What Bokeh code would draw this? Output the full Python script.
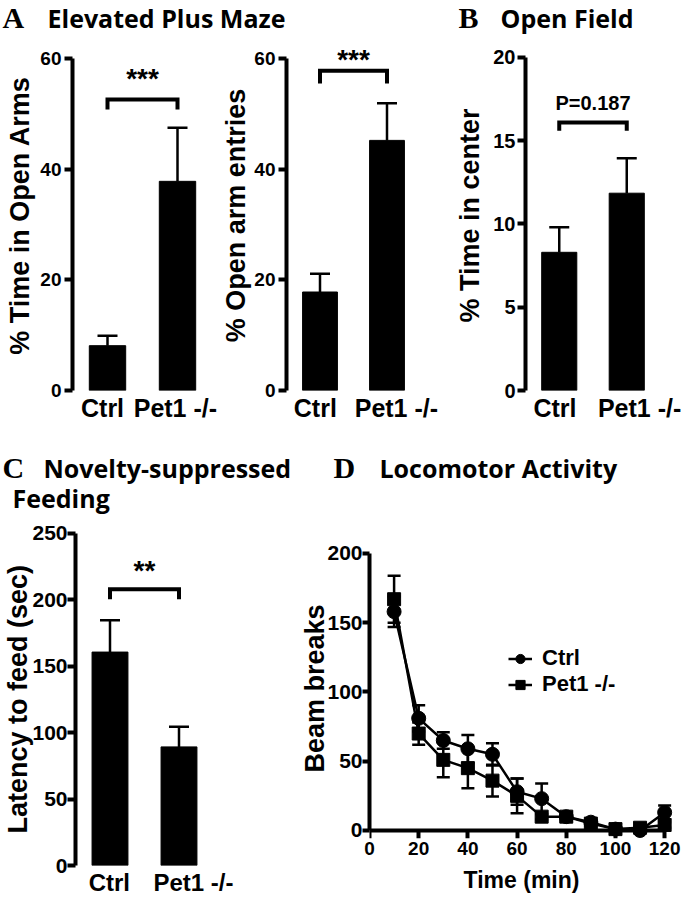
from bokeh.plotting import figure
from bokeh.layouts import row, column
from bokeh.models import (Range1d, FixedTicker, Label, Whisker, TeeHead,
                          ColumnDataSource, Legend, LegendItem, LinearAxis, Plot)
from bokeh.core.properties import value
from bokeh.embed import file_html
from bokeh.resources import INLINE

# ---------------- data ----------------
groups = ["Ctrl", "Pet1 -/-"]

epm_time_mean = [8.1, 37.8]
epm_time_sem = [1.8, 9.7]
epm_entries_mean = [17.8, 45.2]
epm_entries_sem = [3.3, 6.7]
of_center_mean = [8.3, 11.85]
of_center_sem = [1.5, 2.1]
nsf_latency_mean = [160.7, 89.3]
nsf_latency_sem = [24.0, 15.1]

sig_text = ["***", "***", "P=0.187", "**"]
sig_bracket = [52.6, 57.8, 16.1, 208.0]
sig_drop = [1.8, 2.3, 0.5, 7.5]
sig_text_y = [56.4, 59.8, 17.24, 222.0]

time_min = [10, 20, 30, 40, 50, 60, 70, 80, 90, 100, 110, 120]
ctrl_breaks = [158, 81, 65, 59, 55, 28, 23, 10, 6, 1, 0, 13]
ctrl_sem = [11, 9.5, 6, 10, 8, 9.5, 11, 2, 1.5, 0.5, 1, 5]
pet1_breaks = [167, 70, 51, 45, 36, 25, 10, 10, 5, 1, 2, 4]
pet1_sem = [17, 8, 12.5, 14.5, 11.5, 12.5, 2, 3, 1.5, 1, 1, 2]

SANS = "Liberation Sans"
SERIF = "Liberation Serif"
HEAD = "Open Sans"

FA = {"frame_align": False} if "frame_align" in Plot.properties() else {}


def style_y(p, bounds, ticks, label, tick_font="19px", label_font="27px",
            label_standoff=0, tick_standoff=3, tick_out=8):
    ax = p.yaxis[0]
    ax.bounds = bounds
    ax.ticker = FixedTicker(ticks=ticks)
    ax.axis_label = label
    ax.axis_line_width = 4
    ax.major_tick_line_width = 4
    ax.major_tick_out = tick_out
    ax.major_tick_in = 0
    ax.minor_tick_out = 0
    ax.minor_tick_in = 0
    ax.major_label_standoff = tick_standoff
    ax.major_label_text_font = SANS
    ax.major_label_text_font_style = "bold"
    ax.major_label_text_font_size = tick_font
    ax.major_label_text_color = "black"
    ax.axis_label_text_font = SANS
    ax.axis_label_text_font_style = "bold"
    ax.axis_label_text_font_size = label_font
    ax.axis_label_text_color = "black"
    ax.axis_label_standoff = label_standoff


def bar_panel(width, height, mb_left, mb_right, mb_top, mb_bottom, y_end,
              bounds, ticks, ylabel, means, sems, label_pos, k,
              label_standoff=0, tick_font="19px", cat_font="25px",
              tick_standoff=3, star_font="28px", tick_out=8):
    p = figure(width=width, height=height, x_range=Range1d(0.5, 2.5),
               y_range=Range1d(0, y_end), output_backend="svg",
               toolbar_location=None, min_border_left=mb_left,
               min_border_right=mb_right, min_border_top=mb_top,
               min_border_bottom=mb_bottom, outline_line_color=None, **FA)
    p.grid.visible = False
    xs = [i + 1 for i in range(len(groups))]
    p.vbar(x=xs, top=means, width=0.52, color="black")
    src = ColumnDataSource(dict(x=xs, lo=means,
                                hi=[m + s for m, s in zip(means, sems)]))
    p.add_layout(Whisker(source=src, base="x", lower="lo", upper="hi",
                         lower_head=None,
                         upper_head=TeeHead(size=20, line_width=2.5),
                         line_width=2.5, level="glyph"))
    top = sig_bracket[k]
    low = top - sig_drop[k]
    p.line(x=[xs[0], xs[0], xs[1], xs[1]], y=[low, top, top, low],
           line_width=4, color="black", line_join="miter")
    p.text(x=[(xs[0] + xs[1]) / 2], y=[sig_text_y[k]], text=[sig_text[k]],
           text_align="center", text_baseline="middle",
           text_font=value(SANS), text_font_style="bold",
           text_font_size=star_font if "*" in sig_text[k] else "20px")
    style_y(p, bounds, ticks, ylabel, tick_font=tick_font,
            label_standoff=label_standoff, tick_standoff=tick_standoff,
            tick_out=tick_out)
    xa = p.xaxis[0]
    xa.ticker = FixedTicker(ticks=label_pos)
    xa.major_label_overrides = {pos: g for pos, g in zip(label_pos, groups)}
    xa.axis_line_color = None
    xa.major_tick_line_color = None
    xa.minor_tick_line_color = None
    xa.major_tick_out = 0
    xa.major_tick_in = 0
    xa.major_label_standoff = 3
    xa.major_label_text_font = SANS
    xa.major_label_text_font_style = "bold"
    xa.major_label_text_font_size = cat_font
    xa.major_label_text_color = "black"
    return p


def strip(width, height, items):
    p = figure(width=width, height=height, x_range=Range1d(0, 1),
               y_range=Range1d(0, 1), x_axis_location=None,
               y_axis_location=None, output_backend="svg",
               toolbar_location=None, min_border=0, outline_line_color=None,
               **FA)
    p.grid.visible = False
    for txt, x, y, font, size in items:
        p.add_layout(Label(x=x, y=y, x_units="screen", y_units="screen",
                           text=txt, text_font=font, text_font_size=size,
                           text_font_style="bold", text_color="black",
                           text_baseline="middle"))
    return p


# ---------------- row 1 ----------------
title1 = strip(683, 40, [
    ("A", 2, 23, SERIF, "30px"),
    ("Elevated Plus Maze", 47, 22.7, HEAD, "25px"),
    ("B", 458, 23, SERIF, "30px"),
    ("Open Field", 500, 22.7, HEAD, "25px"),
])

a1 = bar_panel(218, 388, 72, 6, 0, 38, 63.25, (0, 60), [0, 20, 40, 60],
               "% Time in Open Arms", epm_time_mean, epm_time_sem,
               [0.929, 1.97], 0, label_standoff=2)
a2 = bar_panel(234, 388, 62, 32, 0, 38, 63.25, (0, 60), [0, 20, 40, 60],
               "% Open arm entries", epm_entries_mean, epm_entries_sem,
               [0.93, 2.14], 1, label_standoff=0)
b = bar_panel(231, 388, 68, 23, 0, 38, 21.02, (0, 20), [0, 5, 10, 15, 20],
              "% Time in center", of_center_mean, of_center_sem,
              [0.936, 2.19], 2, label_standoff=5, tick_font="20px",
              tick_standoff=2)

# ---------------- row 2 ----------------
title2 = strip(683, 87, [
    ("C", 2, 48, SERIF, "30px"),
    ("Novelty-suppressed", 43, 47.7, HEAD, "25px"),
    ("Feeding", 12, 17.7, HEAD, "25px"),
    ("D", 333, 48, SERIF, "30px"),
    ("Locomotor Activity", 379, 47.7, HEAD, "25px"),
])

c = bar_panel(297, 383, 73, 84, 10, 32, 256.0, (0, 250),
              [0, 50, 100, 150, 200, 250], "Latency to feed  (sec)",
              nsf_latency_mean, nsf_latency_sem, [0.99, 2.21], 3,
              label_standoff=-4, tick_font="21px", cat_font="24px",
              tick_standoff=0)

d = figure(width=386, height=383, x_range=Range1d(0, 123.6),
           y_range=Range1d(-5.78, 210.83), output_backend="svg",
           toolbar_location=None, min_border_left=67, min_border_right=10,
           min_border_top=23, min_border_bottom=60, outline_line_color=None,
           **FA)
d.grid.visible = False

ctrl_src = ColumnDataSource(dict(
    x=time_min, y=ctrl_breaks,
    lo=[v - e for v, e in zip(ctrl_breaks, ctrl_sem)],
    hi=[v + e for v, e in zip(ctrl_breaks, ctrl_sem)]))
pet_src = ColumnDataSource(dict(
    x=time_min, y=pet1_breaks,
    lo=[v - e for v, e in zip(pet1_breaks, pet1_sem)],
    hi=[v + e for v, e in zip(pet1_breaks, pet1_sem)]))

for src in (ctrl_src, pet_src):
    d.add_layout(Whisker(source=src, base="x", lower="lo", upper="hi",
                         upper_head=TeeHead(size=13, line_width=2.5),
                         lower_head=TeeHead(size=13, line_width=2.5),
                         line_width=2.5))

ctrl_line = d.line("x", "y", source=ctrl_src, line_width=2.5, color="black")
pet_line = d.line("x", "y", source=pet_src, line_width=2.5, color="black")
ctrl_pts = d.scatter("x", "y", source=ctrl_src, marker="circle", size=14,
                     color="black")
pet_pts = d.scatter("x", "y", source=pet_src, marker="square", size=13,
                    color="black")

style_y(d, (0, 200), [0, 50, 100, 150, 200], "Beam breaks",
        tick_font="21px", label_standoff=-6, tick_standoff=0, tick_out=7)

time_ticks = [0, 20, 40, 60, 80, 100, 120]
# labels of the time axis (at frame bottom)
xa = d.xaxis[0]
xa.ticker = FixedTicker(ticks=time_ticks)
xa.axis_line_color = None
xa.major_tick_line_color = None
xa.minor_tick_line_color = None
xa.major_tick_out = 0
xa.major_tick_in = 0
xa.major_label_standoff = 3
xa.major_label_text_font = SANS
xa.major_label_text_font_style = "bold"
xa.major_label_text_font_size = "19px"
xa.major_label_text_color = "black"
xa.axis_label = "Time (min)"
xa.axis_label_text_font = SANS
xa.axis_label_text_font_style = "bold"
xa.axis_label_text_font_size = "23px"
xa.axis_label_text_color = "black"
xa.axis_label_standoff = 9

# axis line and ticks at y = 0
xline = LinearAxis(fixed_location=0, bounds=(0, 120),
                   ticker=FixedTicker(ticks=time_ticks),
                   axis_line_width=4, major_tick_line_width=4,
                   major_tick_out=8, major_tick_in=0, minor_tick_out=0,
                   minor_tick_in=0, major_label_text_color=None,
                   major_label_text_font_size="1px")
d.add_layout(xline, "below")

legend = Legend(items=[LegendItem(label="Ctrl", renderers=[ctrl_line, ctrl_pts]),
                       LegendItem(label="Pet1 -/-", renderers=[pet_line, pet_pts])],
                location=(139, 141), border_line_color=None,
                background_fill_alpha=0, padding=0, margin=0, spacing=0,
                glyph_width=24, glyph_height=23, label_height=23,
                label_standoff=10, label_text_font=SANS,
                label_text_font_style="bold", label_text_font_size="22px",
                label_text_color="black")
d.add_layout(legend)

layout = column(title1, row(a1, a2, b), title2, row(c, d))

open("out.html", "w").write(file_html(layout, INLINE))
